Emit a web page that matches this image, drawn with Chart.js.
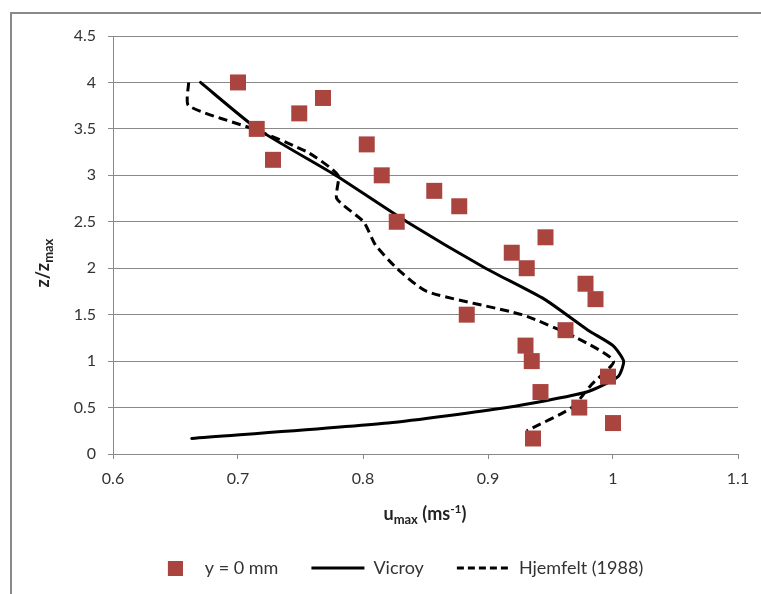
<!DOCTYPE html>
<html><head><meta charset="utf-8">
<script src="https://cdn.jsdelivr.net/npm/chart.js@4.4.1/dist/chart.umd.min.js"></script>
<style>html,body{margin:0;padding:0;background:#fff}#wrap{width:761px;height:594px;position:relative}</style>
</head><body><div id="wrap"><canvas id="c" width="761" height="594"></canvas></div>
<script>
// ---- data ----
const zMeasured = [4.0, 3.833, 3.667, 3.5, 3.333, 3.167, 3.0, 2.833, 2.667, 2.5, 2.333, 2.167, 2.0, 1.833, 1.667, 1.5, 1.333, 1.167, 1.0, 0.833, 0.667, 0.5, 0.333, 0.167];
const uMeasured = [0.700, 0.768, 0.749, 0.715, 0.803, 0.728, 0.815, 0.857, 0.877, 0.827, 0.946, 0.919, 0.931, 0.978, 0.986, 0.883, 0.962, 0.930, 0.935, 0.996, 0.942, 0.973, 1.000, 0.936];
const zVicroy = [4.0, 3.5, 3.0, 2.5, 2.0, 1.667, 1.333, 1.167, 1.0, 0.833, 0.667, 0.5, 0.333, 0.167];
const uVicroy = [0.670, 0.7155, 0.778, 0.835, 0.898, 0.945, 0.980, 1.000, 1.0085, 1.004, 0.979, 0.915, 0.820, 0.663];
const zHjemfelt = [4.0, 3.75, 3.5, 3.25, 3.0, 2.75, 2.5, 2.25, 2.0, 1.75, 1.5, 1.25, 1.0, 0.75, 0.5, 0.25];
const uHjemfelt = [0.6605, 0.6605, 0.712, 0.7555, 0.780, 0.779, 0.8005, 0.810, 0.827, 0.851, 0.927, 0.971, 1.0005, 0.983, 0.967, 0.931];
const xTicks = [0.6, 0.7, 0.8, 0.9, 1, 1.1];
const yTicks = [0, 0.5, 1, 1.5, 2, 2.5, 3, 3.5, 4, 4.5];
const seriesNames = ['y = 0 mm', 'Vicroy', 'Hjemfelt (1988)'];

const RED = '#A9443F';
const GRID = '#898989';
const TXT = '#333333';
const FONT = 'Lato';

const pts = (xs, ys) => xs.map((x, i) => ({x: x, y: ys[i]}));

// legend square symbol (shifted right inside a transparent canvas)
const sq = document.createElement('canvas');
sq.width = 27; sq.height = 15;
(function(){ const g = sq.getContext('2d'); g.fillStyle = RED; g.fillRect(12,0,15,15); })();

function drawRich(ctx, parts, x, y) {
  let total = 0;
  parts.forEach(p => { ctx.font = 'bold ' + p.size + 'px ' + FONT; p.w = ctx.measureText(p.t).width; total += p.w; });
  let cx = x - total / 2;
  ctx.textAlign = 'left';
  ctx.textBaseline = 'alphabetic';
  parts.forEach(p => { ctx.font = 'bold ' + p.size + 'px ' + FONT; ctx.fillText(p.t, cx, y + p.dy); cx += p.w; });
}

const decor = {
  id: 'decor',
  beforeDraw(chart) {
    const ctx = chart.ctx;
    ctx.save();
    ctx.strokeStyle = GRID;
    ctx.lineWidth = 2;
    ctx.strokeRect(11, 13, 900, 800);
    ctx.restore();
  },
  afterDraw(chart) {
    const ctx = chart.ctx;
    ctx.save();
    ctx.fillStyle = '#222';
    drawRich(ctx, [
      {t: 'u', size: 18, dy: 0},
      {t: 'max', size: 13, dy: 4},
      {t: ' (ms', size: 18, dy: 0},
      {t: '-1', size: 12, dy: -7},
      {t: ')', size: 18, dy: 0}
    ], 425, 520);
    ctx.translate(49, 263);
    ctx.rotate(-Math.PI / 2);
    drawRich(ctx, [
      {t: 'z/z', size: 18, dy: 0},
      {t: 'max', size: 13, dy: 4}
    ], 0, 0);
    ctx.restore();
  }
};

new Chart(document.getElementById('c'), {
  type: 'scatter',
  data: {
    datasets: [
      {label: seriesNames[0], data: pts(uMeasured, zMeasured), backgroundColor: RED, borderColor: RED, borderWidth: 0,
       pointStyle: 'rect', pointRadius: 11.3, pointHoverRadius: 11.3},
      {label: seriesNames[1], data: pts(uVicroy, zVicroy), showLine: true, borderColor: '#000', borderWidth: 3,
       pointRadius: 0, tension: 0.2, borderCapStyle: 'round', borderJoinStyle: 'round', fill: false},
      {label: seriesNames[2], data: pts(uHjemfelt, zHjemfelt), showLine: true, borderColor: '#000', borderWidth: 3,
       borderDash: [9, 5], pointRadius: 0, tension: 0.2, borderJoinStyle: 'round', fill: false}
    ]
  },
  options: {
    responsive: false,
    animation: false,
    layout: {padding: {left: 48, right: 23, top: 36, bottom: 7}},
    plugins: {
      tooltip: {enabled: false},
      legend: {
        position: 'bottom',
        labels: {
          usePointStyle: true,
          pointStyleWidth: 53,
          boxHeight: 15,
          padding: 33,
          color: TXT,
          font: {family: FONT, size: 18},
          generateLabels: () => [
            {text: seriesNames[0], pointStyle: sq, fillStyle: RED, strokeStyle: RED, lineWidth: 0, datasetIndex: 0, fontColor: TXT},
            {text: seriesNames[1], pointStyle: 'line', fillStyle: '#000', strokeStyle: '#000', lineWidth: 3, lineDash: [], datasetIndex: 1, fontColor: TXT},
            {text: seriesNames[2], pointStyle: 'line', fillStyle: '#000', strokeStyle: '#000', lineWidth: 3, lineDash: [7, 4], datasetIndex: 2, fontColor: TXT}
          ]
        }
      }
    },
    scales: {
      x: {
        type: 'linear', min: 0.6, max: 1.1,
        afterBuildTicks: s => { s.ticks = xTicks.map(v => ({value: v})); },
        afterFit: s => { s.height = 72; },
        ticks: {color: TXT, font: {family: FONT, size: 16}, padding: 10, maxRotation: 0,
                callback: v => String(Number(v.toFixed(2)))},
        grid: {drawOnChartArea: false, drawTicks: true, tickLength: 5, color: GRID},
        border: {display: true, color: GRID, width: 1}
      },
      y: {
        type: 'linear', min: 0, max: 4.5,
        afterBuildTicks: s => { s.ticks = yTicks.map(v => ({value: v})); },
        afterFit: s => { s.width = 65; },
        ticks: {color: TXT, font: {family: FONT, size: 16}, padding: 12,
                callback: v => String(Number(v.toFixed(2)))},
        grid: {drawOnChartArea: true, drawTicks: true, tickLength: 5, color: GRID, lineWidth: 1},
        border: {display: true, color: GRID, width: 1}
      }
    }
  },
  plugins: [decor]
});
</script>
</body></html>
